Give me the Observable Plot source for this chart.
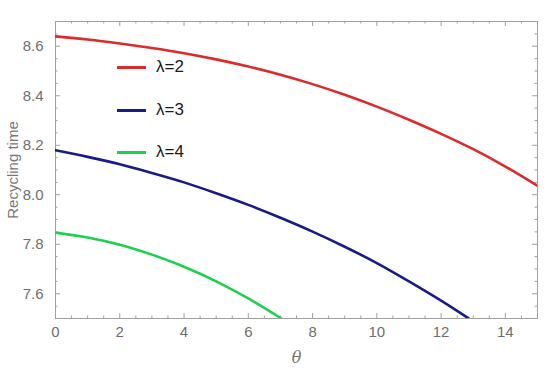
<!DOCTYPE html>
<html>
<head>
<meta charset="utf-8">
<script src="https://cdn.jsdelivr.net/npm/d3@7"></script>
<script src="https://cdn.jsdelivr.net/npm/@observablehq/plot@0.6"></script>
<style>
  html, body { margin: 0; padding: 0; background: #fff; }
  #wrap { position: relative; width: 550px; height: 372px; font-family: "Liberation Sans", Arial, sans-serif; }
  #legend { position: absolute; left: 117px; top: 56px; }
  .item { position: relative; height: 42.5px; display: flex; align-items: flex-start; }
  .swatch { width: 29px; height: 3px; margin-top: 10px; }
  .lab { margin-left: 10px; font-size: 17px; color: #1a1a1a; line-height: 22px; }
</style>
</head>
<body>
<div id="wrap"><div id="chart"></div><div id="legend"></div></div>
<script>
// θ values
const thetaRed = [0,1,2,3,4,5,6,7,8,9,10,11,12,13,14,15];
const valRed   = [8.640,8.627,8.611,8.593,8.572,8.547,8.518,8.485,8.447,8.404,8.356,8.303,8.246,8.184,8.114,8.036];
const thetaBlue = [0,1,2,3,4,5,6,7,8,9,10,11,12,12.86];
const valBlue   = [8.180,8.153,8.123,8.088,8.050,8.006,7.959,7.907,7.851,7.790,7.724,7.650,7.572,7.500];
const thetaGreen = [0,1,2,3,4,5,6,7.03];
const valGreen   = [7.847,7.827,7.798,7.758,7.709,7.650,7.581,7.500];
const seriesNames = ["λ=2","λ=3","λ=4"];
const seriesColors = ["#dd2a2a","#1a1a88","#1ed050"];
const xMajor = [0,2,4,6,8,10,12,14];
const xMinor = d3.range(0, 15.01, 0.5).filter(v => v % 2 !== 0);
const yMajor = [7.6,7.8,8.0,8.2,8.4,8.6];
const yMinor = d3.range(7.5, 8.701, 0.05).map(v => +v.toFixed(2)).filter(v => !yMajor.some(m => Math.abs(m - v) < 1e-6));

const rows = [];
[[thetaRed,valRed],[thetaBlue,valBlue],[thetaGreen,valGreen]].forEach(([xs,ys],i) => {
  xs.forEach((t,j) => rows.push({theta:t, value:ys[j], series:seriesNames[i]}));
});

const W = 550, H = 372, mt = 21, mb = 54, ml = 55, mr = 13;
const ih = H - mt - mb, iw = W - ml - mr;
const frameColor = "#a0a0a0";
const txt = "#6e6e6e";

const chart = Plot.plot({
  width: W, height: H,
  marginTop: mt, marginBottom: mb, marginLeft: ml, marginRight: mr,
  style: {fontFamily: "'Liberation Sans', Arial, sans-serif", background: "white"},
  x: {domain: [0, 15]},
  y: {domain: [7.5, 8.7]},
  color: {domain: seriesNames, range: seriesColors},
  marks: [
    Plot.frame({stroke: frameColor, strokeWidth: 1}),
    // bottom ticks
    Plot.tickX(xMajor, {x: d => d, stroke: frameColor, insetTop: ih - 5}),
    Plot.tickX(xMinor, {x: d => d, stroke: frameColor, insetTop: ih - 2.5}),
    // top ticks
    Plot.tickX(xMajor, {x: d => d, stroke: frameColor, insetBottom: ih - 5}),
    Plot.tickX(xMinor, {x: d => d, stroke: frameColor, insetBottom: ih - 2.5}),
    // left ticks
    Plot.tickY(yMajor, {y: d => d, stroke: frameColor, insetRight: iw - 5}),
    Plot.tickY(yMinor, {y: d => d, stroke: frameColor, insetRight: iw - 2.5}),
    // right ticks
    Plot.tickY(yMajor, {y: d => d, stroke: frameColor, insetLeft: iw - 5}),
    Plot.tickY(yMinor, {y: d => d, stroke: frameColor, insetLeft: iw - 2.5}),
    Plot.axisX({ticks: xMajor, tickSize: 0, tickPadding: 8, fontSize: 15, color: txt,
      label: "θ", labelAnchor: "center", labelOffset: 44, tickFormat: d => String(d)}),
    Plot.axisY({ticks: yMajor, tickSize: 0, tickPadding: 12, fontSize: 15, color: txt,
      label: "Recycling time", labelAnchor: "center", labelOffset: 48, tickFormat: d => d.toFixed(1)}),
    Plot.line(rows, {x: "theta", y: "value", z: "series", stroke: "series", strokeWidth: 2.6, curve: "monotone-x", clip: true})
  ]
});
document.getElementById("chart").appendChild(chart);

// style axis labels (remove direction arrows)
chart.querySelectorAll("g[aria-label='x-axis label'] text").forEach(t => {
  t.textContent = "θ";
  t.style.fontStyle = "italic"; t.style.fontFamily = "'DejaVu Serif', serif"; t.style.fontSize = "16px"; t.setAttribute("fill", "#777");
});
chart.querySelectorAll("g[aria-label='y-axis label'] text").forEach(t => {
  t.textContent = "Recycling time";
  t.style.fontSize = "15px"; t.setAttribute("fill", "#777");
});

const legend = document.getElementById("legend");
seriesNames.forEach((n, i) => {
  const item = document.createElement("div");
  item.className = "item";
  item.innerHTML = `<div class="swatch" style="background:${seriesColors[i]}"></div><div class="lab">${n}</div>`;
  legend.appendChild(item);
});
</script>
</body>
</html>
